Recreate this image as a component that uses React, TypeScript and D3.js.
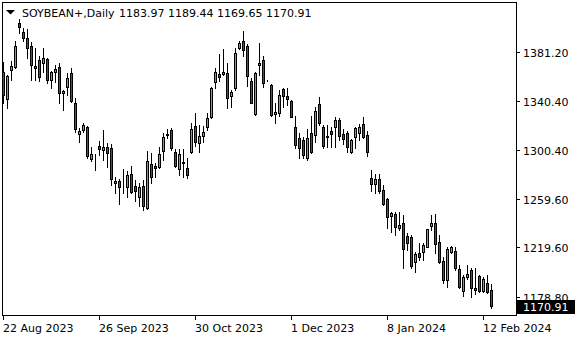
import React from "react";
import * as d3 from "d3";

const symbolTitle = "SOYBEAN+,Daily";

const opens = [
  1364.7, 1342.1, 1366.1, 1368.8, 1404.9, 1397.7, 1392.5, 1385.9, 1369.0, 1374.3,
  1371.6, 1375.2, 1357.8, 1364.7, 1368.6, 1346.8, 1352.3, 1363.6, 1338.8, 1313.2,
  1316.5, 1319.0, 1292.6, 1295.5, 1303.3, 1300.0, 1302.5, 1301.7, 1272.7, 1274.4,
  1272.3, 1269.4, 1280.2, 1270.3, 1261.2, 1270.3, 1252.1, 1288.4, 1286.4, 1286.0,
  1299.2, 1313.2, 1316.5, 1298.4, 1284.3, 1290.1, 1285.1, 1298.4, 1319.8, 1305.8,
  1311.6, 1319.0, 1327.3, 1356.2, 1362.8, 1362.8, 1363.6, 1344.6, 1351.2, 1384.3,
  1390.0, 1385.9, 1357.2, 1329.7, 1370.0, 1374.3, 1357.2, 1353.7, 1329.7, 1330.8,
  1350.4, 1344.6, 1340.7, 1319.0, 1309.9, 1308.3, 1293.4, 1314.0, 1312.4, 1338.0,
  1319.0, 1311.1, 1315.7, 1319.0, 1324.8, 1313.2, 1314.0, 1298.4, 1310.7, 1314.0,
  1321.5, 1312.4, 1277.1, 1271.9, 1276.3, 1267.0, 1259.5, 1245.7, 1247.1, 1235.8,
  1239.7, 1229.0, 1228.4, 1207.7, 1215.2, 1215.9, 1220.1, 1237.2, 1239.9, 1224.0,
  1208.3, 1192.6, 1215.5, 1216.6, 1201.5, 1183.8, 1195.3, 1200.9, 1186.3, 1195.9,
  1183.8, 1189.9, 1183.97,
];
const highs = [
  1372.7, 1361.9, 1373.5, 1390.0, 1408.2, 1400.8, 1400.0, 1389.5, 1384.3, 1377.9,
  1384.3, 1376.2, 1365.3, 1370.2, 1371.9, 1349.6, 1363.6, 1367.7, 1343.0, 1318.2,
  1322.3, 1319.5, 1302.5, 1296.7, 1307.4, 1316.5, 1305.8, 1305.0, 1277.7, 1276.0,
  1284.3, 1282.7, 1286.8, 1275.2, 1272.7, 1275.2, 1299.2, 1297.5, 1289.2, 1302.5,
  1314.0, 1317.3, 1318.2, 1300.8, 1300.8, 1300.8, 1293.4, 1322.3, 1330.6, 1320.6,
  1319.8, 1330.6, 1351.7, 1367.7, 1379.3, 1383.4, 1371.9, 1349.6, 1384.3, 1390.0,
  1398.3, 1387.6, 1359.5, 1364.4, 1388.4, 1377.6, 1357.6, 1354.5, 1338.8, 1349.6,
  1351.2, 1351.2, 1341.3, 1328.1, 1314.0, 1310.7, 1317.3, 1328.1, 1335.5, 1343.8,
  1320.6, 1320.6, 1319.0, 1327.3, 1326.4, 1317.3, 1315.7, 1309.1, 1319.0, 1321.5,
  1327.3, 1315.7, 1283.5, 1280.2, 1280.2, 1271.1, 1260.4, 1248.8, 1248.8, 1248.8,
  1246.3, 1231.4, 1229.8, 1216.0, 1223.2, 1223.4, 1235.0, 1246.3, 1247.1, 1229.8,
  1211.9, 1220.1, 1220.7, 1220.1, 1205.0, 1196.7, 1205.0, 1202.3, 1202.5, 1196.7,
  1195.1, 1196.7, 1189.44,
];
const lows = [
  1338.8, 1334.7, 1357.8, 1367.7, 1396.6, 1390.0, 1376.0, 1357.8, 1357.8, 1357.0,
  1364.4, 1355.3, 1351.5, 1356.4, 1338.8, 1333.0, 1345.4, 1339.9, 1315.1, 1306.6,
  1314.9, 1293.4, 1290.9, 1283.5, 1295.9, 1291.7, 1286.0, 1271.1, 1264.5, 1255.4,
  1264.5, 1261.2, 1264.5, 1257.9, 1253.7, 1250.4, 1251.3, 1272.7, 1277.7, 1285.1,
  1291.7, 1309.9, 1300.0, 1286.0, 1279.4, 1277.7, 1276.9, 1297.5, 1303.3, 1298.4,
  1306.6, 1316.5, 1326.4, 1351.2, 1357.0, 1361.9, 1334.7, 1335.5, 1349.6, 1383.4,
  1377.6, 1352.9, 1338.8, 1329.0, 1361.9, 1352.0, 1356.6, 1328.1, 1322.3, 1328.1,
  1335.5, 1337.2, 1327.0, 1301.7, 1293.4, 1293.4, 1291.7, 1297.5, 1306.6, 1320.6,
  1301.7, 1302.5, 1302.5, 1302.5, 1308.3, 1305.0, 1298.4, 1297.5, 1301.7, 1308.3,
  1310.2, 1295.0, 1266.4, 1264.5, 1264.5, 1254.6, 1235.6, 1232.5, 1229.8, 1233.9,
  1202.5, 1217.4, 1202.5, 1199.5, 1209.1, 1209.1, 1219.9, 1233.9, 1214.9, 1206.7,
  1190.4, 1186.8, 1214.9, 1200.9, 1186.3, 1179.4, 1193.4, 1178.8, 1181.1, 1182.7,
  1182.7, 1181.9, 1169.65,
];
const closes = [
  1345.4, 1361.1, 1369.4, 1385.9, 1401.8, 1392.8, 1384.3, 1370.2, 1368.1, 1360.5,
  1376.2, 1357.8, 1364.4, 1366.9, 1347.1, 1348.7, 1359.7, 1340.5, 1317.3, 1315.7,
  1320.6, 1295.0, 1296.7, 1295.9, 1300.8, 1302.5, 1297.5, 1276.0, 1274.4, 1269.4,
  1271.6, 1279.4, 1265.3, 1266.1, 1269.4, 1253.7, 1290.9, 1277.7, 1285.5, 1296.7,
  1310.7, 1312.0, 1301.7, 1286.8, 1296.7, 1289.6, 1279.4, 1317.3, 1306.6, 1311.6,
  1314.9, 1326.8, 1351.2, 1364.4, 1360.3, 1364.4, 1343.0, 1347.9, 1380.1, 1388.4,
  1382.6, 1361.1, 1339.1, 1363.6, 1372.1, 1355.6, 1357.0, 1328.9, 1331.6, 1345.4,
  1344.6, 1342.1, 1327.5, 1304.1, 1301.7, 1295.9, 1309.9, 1298.4, 1332.2, 1322.3,
  1303.3, 1311.2, 1313.2, 1324.8, 1311.6, 1309.1, 1302.5, 1308.3, 1318.2, 1319.0,
  1310.7, 1298.4, 1271.9, 1276.3, 1266.4, 1255.4, 1244.9, 1248.2, 1236.6, 1238.0,
  1218.2, 1223.2, 1204.2, 1214.1, 1211.9, 1221.5, 1234.7, 1239.7, 1222.4, 1207.7,
  1192.6, 1218.2, 1219.6, 1202.3, 1186.6, 1194.9, 1197.6, 1185.8, 1184.4, 1183.8,
  1193.2, 1183.0, 1170.91,
];

const priceTicks = [1381.2, 1340.4, 1300.4, 1259.6, 1219.6, 1178.8];
const dateTickBars = [0, 24, 48, 72, 96, 120];
const dateTickLabels = ["22 Aug 2023", "26 Sep 2023", "30 Oct 2023", "1 Dec 2023", "8 Jan 2024", "12 Feb 2024"];

const W = 580;
const H = 340;
const FONT = "'DejaVu Sans', Tahoma, sans-serif";
const UP = "#22dd22";
const DOWN = "#e01414";

export default function App() {
  const n = closes.length;
  const x = d3.scaleLinear().domain([0, n - 1]).range([3.5, 3.5 + 4 * (n - 1)]);
  const y = d3.scaleLinear().domain([1178.8, 1381.2]).range([296.7, 51.7]);
  const py = (v: number) => Math.round(y(v)) + 0.5;

  const last = n - 1;
  const lastY = y(closes[last]);
  const header = [opens[last], highs[last], lows[last], closes[last]].map((v) => v.toFixed(2)).join(" ");

  const plotRight = 516;
  const plotBottom = 316;

  return (
    <svg width={W} height={H} style={{ position: "absolute", left: 0, top: 0, background: "#fff" }} fontFamily={FONT}>
      <rect x={0} y={0} width={W} height={H} fill="#fff" />
      {/* candles */}
      <g>
        {closes.map((c, i) => {
          const o = opens[i];
          const cx = x(i);
          const top = Math.round(y(Math.max(o, c)));
          const bot = Math.round(y(Math.min(o, c)));
          const up = c > o;
          const doji = bot - top < 1;
          return (
            <g key={i}>
              <line x1={cx} x2={cx} y1={Math.round(y(highs[i]))} y2={Math.round(y(lows[i])) + 1} stroke="#000" strokeWidth={1} />
              <rect
                x={cx - 1}
                y={top + 0.5}
                width={2}
                height={Math.max(bot - top, 0)}
                fill={doji ? "#000" : up ? UP : DOWN}
                stroke="#000"
                strokeWidth={1}
              />
            </g>
          );
        })}
      </g>
      {/* frame */}
      <rect x={2.5} y={2.5} width={plotRight - 2} height={plotBottom - 3} fill="none" stroke="#000" strokeWidth={1} />
      {/* price axis */}
      <g fontSize={11} fill="#000">
        {priceTicks.map((t) => {
          const ty = py(t);
          return (
            <g key={t}>
              <line x1={plotRight} x2={plotRight + 4} y1={ty} y2={ty} stroke="#000" />
              <text x={523} y={Math.round(y(t)) + 5}>{t.toFixed(2)}</text>
            </g>
          );
        })}
      </g>
      {/* last price box */}
      <rect x={517} y={Math.round(lastY) - 6} width={58} height={14} fill="#000" />
      <text x={523} y={Math.round(lastY) + 5} fontSize={11} fill="#fff">{closes[last].toFixed(2)}</text>
      {/* date axis */}
      <g fontSize={11} fill="#000">
        {dateTickBars.map((b, i) => {
          const tx = x(b);
          return (
            <g key={b}>
              <line x1={tx} x2={tx} y1={plotBottom} y2={plotBottom + 4} stroke="#000" />
              <text x={tx - 0.5} y={332}>{dateTickLabels[i]}</text>
            </g>
          );
        })}
      </g>
      {/* header */}
      <polygon points="6,10 15,10 10.5,14.5" fill="#000" />
      <text x={22} y={17} fontSize={11} fill="#000">{symbolTitle}</text>
      <text x={119} y={17} fontSize={11} fill="#000">{header}</text>
    </svg>
  );
}
